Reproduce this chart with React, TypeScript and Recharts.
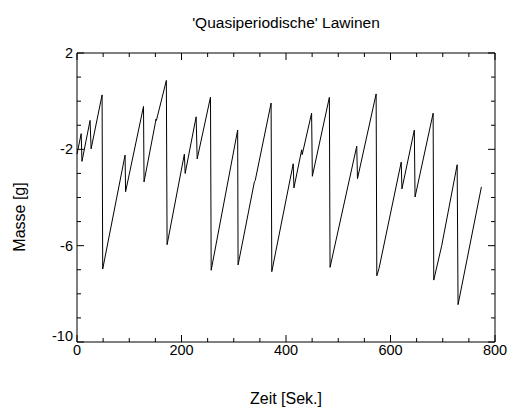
import { Line, LineChart, XAxis, YAxis } from 'recharts'

// Zeit [Sek.] / Masse [g] (drops are two close points)
const zeit = [
  0, 8, 9.5, 25, 27, 48, 49.2, 92, 93, 127.3, 128.3, 150, 151, 152, 171, 172.4,
  205.5, 207, 228, 230, 255.5, 256.8, 307.5, 308.3, 339.5, 341, 371.5, 372.8,
  413.8, 415.2, 430, 431, 449, 450.4, 483, 484.3, 535.4, 536.8, 572.5, 573.8,
  578, 620.5, 621.9, 645.6, 647, 681.6, 682.8, 698, 727.6, 729.3, 774,
]
const masse = [
  -2.2, -1.35, -2.5, -0.8, -1.98, 0.26, -6.97, -2.24, -3.76, -0.22, -3.35, -0.9, -0.75, -0.8, 0.86, -5.96,
  -2.2, -3.0, -0.65, -2.4, 0.17, -7.02, -1.2, -6.8, -3.35, -3.3, -0.08, -7.08,
  -2.6, -3.6, -2.02, -2.22, -0.5, -3.12, 0.16, -6.9, -1.87, -3.22, 0.3, -7.25,
  -6.95, -2.53, -3.64, -1.2, -3.98, -0.5, -7.43, -6.0, -2.64, -8.45, -3.56,
]

const xTicks = [0, 50, 100, 150, 200, 250, 300, 350, 400, 450, 500, 550, 600, 650, 700, 750, 800]
const xLabeled = [0, 200, 400, 600, 800]
const yTicks = [-10, -9, -8, -7, -6, -5, -4, -3, -2, -1, 0, 1, 2]
const yLabeled = [-10, -6, -2, 2]

const data = zeit.map((t, i) => ({ t, m: masse[i] }))

const FONT = '"Liberation Sans", Arial, Helvetica, sans-serif'
const MINOR = 4
const MAJOR = 7

function BottomTick({ x, y, payload }: any) {
  const major = xLabeled.includes(payload.value)
  return (
    <g>
      <line x1={x} x2={x} y1={y} y2={y - (major ? MAJOR : MINOR)} stroke="#000" />
      {major && (
        <text x={x} y={y + 12.5} textAnchor="middle" fontSize={14.5} fontFamily={FONT} fill="#000">
          {payload.value}
        </text>
      )}
    </g>
  )
}

function TopTick({ x, y, payload }: any) {
  const major = xLabeled.includes(payload.value)
  return <line x1={x} x2={x} y1={y} y2={y + (major ? MAJOR : MINOR)} stroke="#000" />
}

function LeftTick({ x, y, payload }: any) {
  const major = yLabeled.includes(payload.value)
  // the bottom label sits a bit above its tick in the original
  const dy = payload.value === -10 ? -1 : 5
  return (
    <g>
      <line x1={x} x2={x + (major ? MAJOR : MINOR)} y1={y} y2={y} stroke="#000" />
      {major && (
        <text x={x - 4} y={y + dy} textAnchor="end" fontSize={14.5} fontFamily={FONT} fill="#000">
          {payload.value}
        </text>
      )}
    </g>
  )
}

function RightTick({ x, y, payload }: any) {
  const major = yLabeled.includes(payload.value)
  return <line x1={x} x2={x - (major ? MAJOR : MINOR)} y1={y} y2={y} stroke="#000" />
}

export default function App() {
  return (
    <div style={{ position: 'absolute', left: 0, top: 0, width: 512, height: 409, background: '#fff' }}>
      <LineChart width={512} height={409} data={data} margin={{ top: 0, right: 0, bottom: 0, left: 0 }}>
        <XAxis xAxisId="b" dataKey="t" type="number" domain={[0, 800]} ticks={xTicks} interval={0}
          orientation="bottom" height={67} tickSize={0} tickMargin={0} tickLine={false}
          axisLine={{ stroke: '#000' }} tick={<BottomTick />} />
        <XAxis xAxisId="t" dataKey="t" type="number" domain={[0, 800]} ticks={xTicks} interval={0}
          orientation="top" height={53} tickSize={0} tickMargin={0} tickLine={false}
          axisLine={{ stroke: '#000' }} tick={<TopTick />} />
        <YAxis yAxisId="l" type="number" domain={[-10, 2]} ticks={yTicks} interval={0}
          orientation="left" width={77} tickSize={0} tickMargin={0} tickLine={false}
          axisLine={{ stroke: '#000' }} tick={<LeftTick />} />
        <YAxis yAxisId="r" type="number" domain={[-10, 2]} ticks={yTicks} interval={0}
          orientation="right" width={17} tickSize={0} tickMargin={0} tickLine={false}
          axisLine={{ stroke: '#000' }} tick={<RightTick />} />
        <Line xAxisId="b" yAxisId="l" dataKey="m" type="linear" stroke="#000" strokeWidth={1}
          dot={false} isAnimationActive={false} />
        <Line xAxisId="t" yAxisId="r" dataKey="m" type="linear" stroke="none" strokeWidth={0}
          dot={false} isAnimationActive={false} legendType="none" />
      </LineChart>
      <svg width={512} height={409} style={{ position: 'absolute', left: 0, top: 0, pointerEvents: 'none' }}>
        <text x={286} y={28} textAnchor="middle" fontSize={15.5} fontFamily={FONT} fill="#000">
          'Quasiperiodische' Lawinen
        </text>
        <text x={286} y={404} textAnchor="middle" fontSize={16} fontFamily={FONT} fill="#000">
          Zeit [Sek.]
        </text>
        <text x={25} y={217} textAnchor="middle" fontSize={16} fontFamily={FONT} fill="#000"
          transform="rotate(-90 25 217)">
          Masse [g]
        </text>
      </svg>
    </div>
  )
}
